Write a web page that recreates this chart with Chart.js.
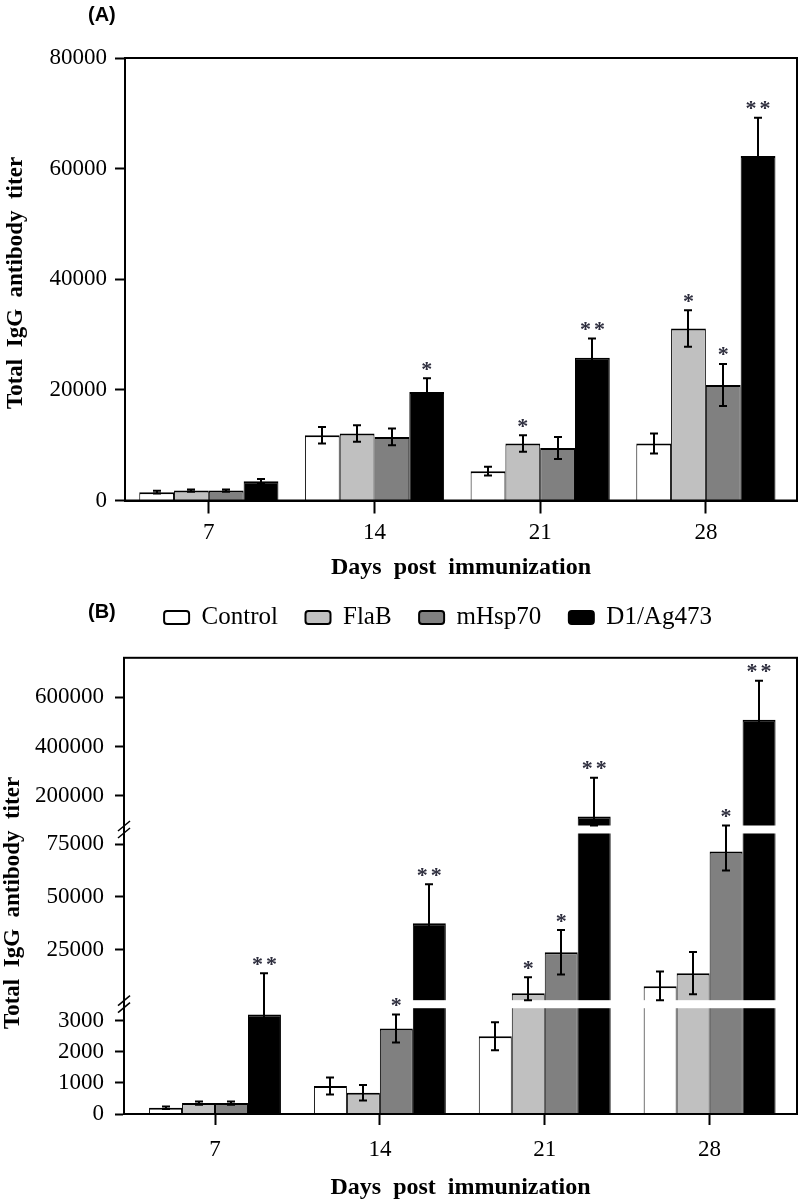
<!DOCTYPE html>
<html><head><meta charset="utf-8">
<script src="https://cdn.jsdelivr.net/npm/chart.js@4.4.1/dist/chart.umd.min.js"></script>
<style>
html,body{margin:0;padding:0;background:#fff;}
#wrap{position:relative;width:800px;height:1203px;background:#fff;}
canvas{position:absolute;left:0;}
#ca{top:0;} #cb{top:633px;}
</style></head><body>
<div id="wrap">
<canvas id="ca" width="800" height="640"></canvas>
<canvas id="cb" width="800" height="570"></canvas>
</div>
<script>
// ---------- data ----------
const days = ['7', '14', '21', '28'];
const seriesNames = ['Control', 'FlaB', 'mHsp70', 'D1/Ag473'];
const seriesColors = ['#ffffff', '#c0c0c0', '#808080', '#000000'];

// Panel (A) – linear axis
const aControl = [1500, 11800, 5300, 10300];
const aFlaB    = [1800, 12100, 10300, 31100];
const aHsp70   = [1800, 11500, 9500, 20900];
const aD1      = [3500, 19600, 25800, 62300];
const aControlErr = [250, 1500, 800, 1800];
const aFlaBErr    = [200, 1500, 1500, 3300];
const aHsp70Err   = [200, 1500, 2000, 3800];
const aD1Err      = [400, 2500, 3500, 6900];
const aControlStars = ['', '', '', ''];
const aFlaBStars    = ['', '', '*', '*'];
const aHsp70Stars   = ['', '', '', '*'];
const aD1Stars      = ['', '*', '**', '**'];
const aTicks = [0, 20000, 40000, 60000, 80000];

// Panel (B) – broken axis
const bControl = [200, 900, 2500, 7600];
const bFlaB    = [350, 680, 4300, 13800];
const bHsp70   = [350, 2750, 23700, 71500];
const bD1      = [3200, 37400, 116000, 509000];
const bControlErr = [40, 270, 450, 7000];
const bFlaBErr    = [50, 250, 7600, 10000];
const bHsp70Err   = [50, 450, 10500, 9000];
const bD1Err      = [10600, 18500, 158000, 158000];
const bControlStars = ['', '', '', ''];
const bFlaBStars    = ['', '', '*', ''];
const bHsp70Stars   = ['', '*', '*', '*'];
const bD1Stars      = ['**', '**', '**', '**'];
const bTicks = [0, 1000, 2000, 3000, 25000, 50000, 75000, 200000, 400000, 600000];

// axis break configuration (value ranges and their share of the axis)
const bSegments = [
  {min: 0,     max: 3400,   from: 0,      to: 0.2319},
  {min: 1000,  max: 80000,  from: 0.2495, to: 0.6149},
  {min: 80000, max: 760000, from: 0.6324, to: 1}
];

// ---------- broken linear scale ----------
class BrokenScale extends Chart.LinearScale {
  static id = 'brokenLinear';
  static defaults = {};
  _segs() { return bSegments; }
  _seg(v) {
    const s = this._segs();
    for (const g of s) if (v <= g.max) return g;
    return s[s.length - 1];
  }
  _dec(v, g) { return g.from + (v - g.min) / (g.max - g.min) * (g.to - g.from); }
  getPixelForValue(v) {
    if (v === null || v === undefined || isNaN(v)) return NaN;
    const g = this._seg(v);
    return this.getPixelForDecimal(this._dec(v, g));
  }
  getValueForPixel(p) {
    const d = this.getDecimalForPixel(p);
    const s = this._segs();
    let g = s[0];
    for (const x of s) if (d >= x.from) g = x;
    return g.min + (d - g.from) / (g.to - g.from) * (g.max - g.min);
  }
  getPixelInSegment(v, ref) {
    const g = this._seg(ref);
    return this.getPixelForDecimal(Math.max(g.from, this._dec(v, g)));
  }
  buildTicks() { return bTicks.map(v => ({value: v})); }
}
Chart.register(BrokenScale);

Chart.defaults.font.family = 'Liberation Serif';
Chart.defaults.color = '#000';

const SERIF = 'Liberation Serif';

function makeDatasets(arrs) {
  return arrs.map((vals, i) => ({
    label: seriesNames[i],
    data: vals.map((v, j) => ({x: j, y: v})),
    backgroundColor: seriesColors[i],
    borderColor: '#000',
    borderWidth: {top: 2, left: 1, right: 1, bottom: 0},
    barPercentage: 1.0
  }));
}

function extrasPlugin(cfg) {
  return {
    id: 'extras',
    afterLayout(chart) {
      if (cfg.legendShift && chart.legend) {
        chart.legend.left += cfg.legendShift;
        chart.legend.right += cfg.legendShift;
      }
    },
    afterDatasetsDraw(chart) {
      const ctx = chart.ctx, ca = chart.chartArea, ys = chart.scales.y;
      ctx.save();
      // white bands for axis breaks
      if (cfg.broken) {
        ctx.fillStyle = '#fff';
        for (let i = 0; i < bSegments.length - 1; i++) {
          const y1 = ys.getPixelForDecimal(bSegments[i].to);
          const y2 = ys.getPixelForDecimal(bSegments[i + 1].from);
          ctx.fillRect(ca.left + 1.5, y2, ca.width - 3, y1 - y2);
        }
      }
      // frame
      ctx.strokeStyle = '#000';
      ctx.lineWidth = 2;
      ctx.strokeRect(ca.left, ca.top, ca.width, ca.height);
      // break marks
      if (cfg.broken) {
        ctx.lineWidth = 1.5;
        for (let i = 0; i < bSegments.length - 1; i++) {
          const y1 = ys.getPixelForDecimal(bSegments[i].to);
          const y2 = ys.getPixelForDecimal(bSegments[i + 1].from);
          const ym = (y1 + y2) / 2;
          for (const d of [-3.5, 3.5]) {
            ctx.beginPath();
            ctx.moveTo(ca.left - 6, ym + d + 5);
            ctx.lineTo(ca.left + 6, ym + d - 5);
            ctx.stroke();
          }
        }
      }
      // error bars
      ctx.strokeStyle = '#000';
      ctx.lineWidth = 2;
      const tops = [];
      cfg.values.forEach((vals, si) => {
        const meta = chart.getDatasetMeta(si);
        tops[si] = [];
        vals.forEach((v, j) => {
          const e = cfg.errors[si][j];
          const bar = meta.data[j];
          const x = Math.round(bar.x);
          const top = ys.getPixelForValue(v + e);
          const bot = cfg.broken ? ys.getPixelInSegment(v - e, v) : ys.getPixelForValue(Math.max(0, v - e));
          tops[si][j] = top;
          ctx.beginPath();
          ctx.moveTo(x, top); ctx.lineTo(x, bot);
          ctx.moveTo(x - 4, top); ctx.lineTo(x + 4, top);
          ctx.moveTo(x - 4, bot); ctx.lineTo(x + 4, bot);
          ctx.stroke();
        });
      });
      // significance stars
      ctx.fillStyle = '#2e2e3e';
      ctx.font = 'bold 22px "' + SERIF + '"';
      ctx.textAlign = 'center';
      ctx.textBaseline = 'alphabetic';
      const m = ctx.measureText('*');
      const shift = (m.actualBoundingBoxAscent - m.actualBoundingBoxDescent) / 2;
      cfg.stars.forEach((arr, si) => {
        const meta = chart.getDatasetMeta(si);
        arr.forEach((s, j) => {
          if (!s) return;
          const x = meta.data[j].x;
          const yc = tops[si][j] - 12;
          for (let k = 0; k < s.length; k++) {
            const dx = (k - (s.length - 1) / 2) * 14;
            ctx.fillText('*', x + dx, yc + shift);
          }
        });
      });
      ctx.restore();
    },
    afterDraw(chart) {
      const ctx = chart.ctx;
      ctx.save();
      ctx.fillStyle = '#000';
      (cfg.panelLabels || []).forEach(p => {
        ctx.font = 'bold 20px "Liberation Sans"';
        ctx.textAlign = 'left';
        ctx.textBaseline = 'middle';
        ctx.fillText(p.text, p.x, p.y);
      });
      ctx.translate(cfg.yTitle.x, cfg.yTitle.y);
      ctx.rotate(-Math.PI / 2);
      ctx.font = 'bold 23px "' + SERIF + '"';
      ctx.textAlign = 'center';
      ctx.textBaseline = 'middle';
      ctx.fillText('Total  IgG  antibody  titer', 0, 0);
      ctx.restore();
    }
  };
}

function xAxis(min, max, tl, pad, titleBottom, height) {
  return {
    type: 'linear', min: min, max: max, offset: false,
    afterBuildTicks: s => { s.ticks = days.map((_, i) => ({value: i})); },
    afterFit: s => { s.height = height; },
    grid: {display: true, offset: false, drawOnChartArea: false, drawTicks: true,
           tickLength: tl, tickColor: '#000', tickWidth: 2},
    border: {display: true, color: '#000', width: 2},
    ticks: {callback: v => days[v], padding: pad, maxRotation: 0, autoSkip: false,
            color: '#000', font: {family: SERIF, size: 23}},
    title: {display: true, text: 'Days  post  immunization', color: '#000',
            font: {family: SERIF, size: 24, weight: 'bold'},
            padding: {top: 0, bottom: titleBottom}}
  };
}

// ---------- Panel A ----------
const aVals = [aControl, aFlaB, aHsp70, aD1];
new Chart(document.getElementById('ca'), {
  type: 'bar',
  data: {datasets: makeDatasets(aVals)},
  options: {
    responsive: false, animation: false,
    datasets: {bar: {categoryPercentage: 0.84, barPercentage: 1.0}},
    layout: {padding: {top: 58, left: 0, right: 3, bottom: 0}},
    scales: {
      x: xAxis(-0.506, 3.55, 13, 5.7, -4.9, 77),
      y: {
        type: 'linear', min: 0, max: 80000,
        afterBuildTicks: s => { s.ticks = aTicks.map(v => ({value: v})); },
        afterFit: s => { s.width = 125; },
        grid: {display: true, drawOnChartArea: false, drawTicks: true, tickLength: 10, tickColor: '#000', tickWidth: 2},
        border: {display: true, color: '#000', width: 2},
        ticks: {callback: v => String(v), padding: 8, autoSkip: false, color: '#000', font: {family: SERIF, size: 23}}
      }
    },
    plugins: {
      legend: {
        display: true, position: 'bottom', align: 'center',
        labels: {
          boxWidth: 25, boxHeight: 13, padding: 27.5, color: '#000',
          font: {family: SERIF, size: 25},
          useBorderRadius: true, borderRadius: 3,
          generateLabels: chart => Chart.defaults.plugins.legend.labels.generateLabels(chart)
            .map(l => Object.assign(l, {lineWidth: 2, strokeStyle: '#000'}))
        }
      },
      tooltip: {enabled: false}
    }
  },
  plugins: [extrasPlugin({
    broken: false,
    legendShift: 39.5,
    values: aVals,
    errors: [aControlErr, aFlaBErr, aHsp70Err, aD1Err],
    stars: [aControlStars, aFlaBStars, aHsp70Stars, aD1Stars],
    panelLabels: [{text: '(A)', x: 88, y: 15}, {text: '(B)', x: 88, y: 612}],
    yTitle: {x: 16, y: 283}
  })]
});

// ---------- Panel B ----------
const bVals = [bControl, bFlaB, bHsp70, bD1];
new Chart(document.getElementById('cb'), {
  type: 'bar',
  data: {datasets: makeDatasets(bVals)},
  options: {
    responsive: false, animation: false,
    datasets: {bar: {categoryPercentage: 0.80, barPercentage: 1.0}},
    layout: {padding: {top: 24, left: 0, right: 3, bottom: 0}},
    scales: {
      x: xAxis(-0.552, 3.53, 11, 11.2, 0.6, 89),
      y: {
        type: 'brokenLinear', min: 0, max: 760000,
        afterFit: s => { s.width = 124; },
        grid: {display: true, drawOnChartArea: false, drawTicks: true, tickLength: 9, tickColor: '#000', tickWidth: 2},
        border: {display: true, color: '#000', width: 2},
        ticks: {callback: v => String(v), padding: 11, autoSkip: false, color: '#000', font: {family: SERIF, size: 23}}
      }
    },
    plugins: {legend: {display: false}, tooltip: {enabled: false}}
  },
  plugins: [extrasPlugin({
    broken: true,
    values: bVals,
    errors: [bControlErr, bFlaBErr, bHsp70Err, bD1Err],
    stars: [bControlStars, bFlaBStars, bHsp70Stars, bD1Stars],
    panelLabels: [],
    yTitle: {x: 13, y: 270}
  })]
});
</script>
</body></html>
